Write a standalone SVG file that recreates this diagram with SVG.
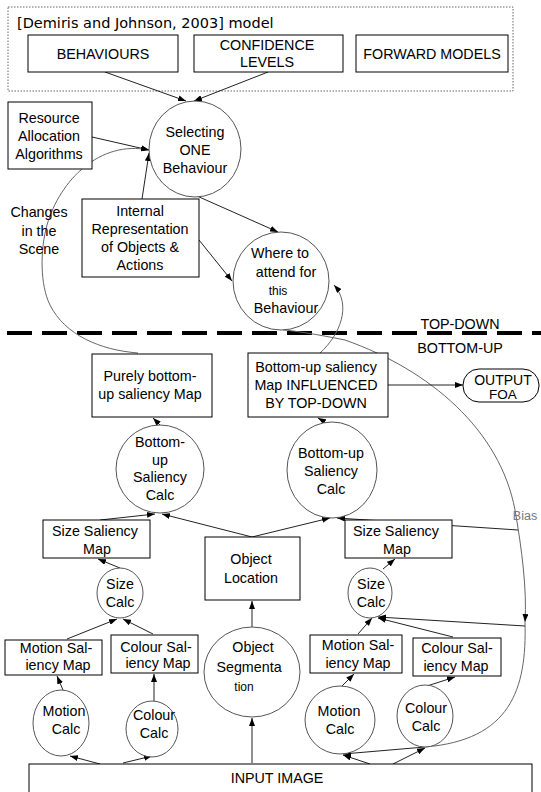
<svg xmlns="http://www.w3.org/2000/svg" width="541" height="792" viewBox="0 0 541 792">
<defs>
<style>
.box{fill:#fff;stroke:#000;stroke-width:1}
.circ{fill:#fff;stroke:#555;stroke-width:1}
.t{font-family:"Liberation Sans",Arial,sans-serif;font-size:14.3px;fill:#000;text-anchor:middle}
.sm{font-size:12px}
.ln{fill:none;stroke:#222;stroke-width:1}
.cv{fill:none;stroke:#666;stroke-width:1}
</style>
<marker id="ah" markerWidth="8" markerHeight="6" refX="8" refY="3" orient="auto" markerUnits="userSpaceOnUse">
<path d="M0,0 L8,3 L0,6 z" fill="#000"/>
</marker>
</defs>
<rect width="541" height="792" fill="#fff"/>

<g id="model-frame">
<rect x="8" y="7" width="505" height="84" fill="none" stroke="#666" stroke-width="1" stroke-dasharray="1.5 1.5"/>
<text x="17" y="28" style="font-family:'DejaVu Sans',sans-serif;font-size:14.5px;fill:#000">[Demiris and Johnson, 2003] model</text>
</g>

<g id="divider">
<line x1="7" y1="333" x2="541" y2="333" stroke="#000" stroke-width="4" stroke-dasharray="25 10"/>
<text class="t" x="460" y="329">TOP-DOWN</text>
<text class="t" x="460" y="353">BOTTOM-UP</text>
</g>

<g id="connectors">
<line class="ln" x1="105" y1="72" x2="186" y2="101" marker-end="url(#ah)"/>
<line class="ln" x1="268" y1="72" x2="194" y2="101" marker-end="url(#ah)"/>
<line class="ln" x1="92" y1="137" x2="149" y2="150" marker-end="url(#ah)"/>
<path class="cv" d="M 138 353 C 100 350, 65 335, 50 305 C 40 285, 40 250, 47 225 C 60 180, 100 140, 149 150" marker-end="url(#ah)"/>
<line class="ln" x1="142" y1="199" x2="149" y2="153" marker-end="url(#ah)"/>
<line class="ln" x1="197" y1="196" x2="278" y2="232" marker-end="url(#ah)"/>
<line class="ln" x1="199" y1="240" x2="232" y2="281" marker-end="url(#ah)"/>
<path class="cv" d="M 320 353 C 340 335, 352 305, 334 285" marker-end="url(#ah)"/>
<path class="cv" d="M 283 330 Q 300 331 345 340 C 430 370, 500 430, 515 510 C 522 550, 527 590, 525 622" marker-end="url(#ah)"/>
<path class="cv" d="M 525 622 C 527 690, 510 740, 425 747"/>
<line class="ln" x1="425" y1="747" x2="343" y2="754" marker-end="url(#ah)"/>
<line class="ln" x1="518" y1="530" x2="337" y2="518" marker-end="url(#ah)"/>
<line class="ln" x1="525" y1="626" x2="378" y2="617" marker-end="url(#ah)"/>
<line class="ln" x1="388" y1="385" x2="463" y2="385" marker-end="url(#ah)"/>
<line class="ln" x1="160" y1="425" x2="153" y2="418" marker-end="url(#ah)"/>
<line class="ln" x1="325" y1="422" x2="318" y2="418" marker-end="url(#ah)"/>
<line class="ln" x1="100" y1="520" x2="155" y2="514" marker-end="url(#ah)"/>
<line class="ln" x1="252" y1="537" x2="162" y2="514" marker-end="url(#ah)"/>
<line class="ln" x1="252" y1="537" x2="330" y2="518" marker-end="url(#ah)"/>
<line class="ln" x1="120" y1="568" x2="98" y2="559" marker-end="url(#ah)"/>
<line class="ln" x1="383" y1="569" x2="395" y2="559" marker-end="url(#ah)"/>
<line class="ln" x1="67" y1="639" x2="117" y2="619" marker-end="url(#ah)"/>
<line class="ln" x1="153" y1="634" x2="123" y2="619" marker-end="url(#ah)"/>
<line class="ln" x1="358" y1="634" x2="372" y2="618" marker-end="url(#ah)"/>
<line class="ln" x1="453" y1="637" x2="378" y2="618" marker-end="url(#ah)"/>
<line class="ln" x1="63" y1="690" x2="57" y2="676" marker-end="url(#ah)"/>
<line class="ln" x1="154" y1="701" x2="154" y2="674" marker-end="url(#ah)"/>
<line class="ln" x1="342" y1="686" x2="354" y2="674" marker-end="url(#ah)"/>
<line class="ln" x1="427" y1="686" x2="455" y2="677" marker-end="url(#ah)"/>
<line class="ln" x1="252" y1="627" x2="252" y2="601" marker-end="url(#ah)"/>
<line class="ln" x1="252" y1="763" x2="252" y2="718" marker-end="url(#ah)"/>
<line class="ln" x1="100" y1="764" x2="70" y2="756" marker-end="url(#ah)"/>
<line class="ln" x1="123" y1="763" x2="152" y2="756" marker-end="url(#ah)"/>
<line class="ln" x1="370" y1="764" x2="343" y2="755" marker-end="url(#ah)"/>
<line class="ln" x1="393" y1="764" x2="425" y2="748" marker-end="url(#ah)"/>
</g>

<g id="behaviours"><rect class="box" x="28" y="35" width="150" height="37"/><text class="t" x="103" y="59">BEHAVIOURS</text></g>
<g id="confidence"><rect class="box" x="194" y="35" width="149" height="37"/><text class="t" x="267" y="50">CONFIDENCE</text><text class="t" x="267" y="67">LEVELS</text></g>
<g id="forward"><rect class="box" x="356" y="35" width="152" height="37"/><text class="t" x="432" y="59">FORWARD MODELS</text></g>

<g id="resource"><rect class="box" x="8" y="102" width="84" height="67"/><text class="t" x="49" y="123">Resource</text><text class="t" x="49" y="141">Allocation</text><text class="t" x="49" y="159">Algorithms</text></g>

<g id="selecting"><ellipse class="circ" cx="195" cy="149" rx="46" ry="48"/><text class="t" x="195" y="137">Selecting</text><text class="t" x="195" y="155">ONE</text><text class="t" x="195" y="173">Behaviour</text></g>

<g id="changes-label"><text class="t" x="39" y="217">Changes</text><text class="t" x="39" y="236">in the</text><text class="t" x="39" y="254">Scene</text></g>

<g id="internal"><rect class="box" x="82" y="199" width="117" height="78"/><text class="t" x="140" y="216">Internal</text><text class="t" x="140" y="234">Representation</text><text class="t" x="140" y="252">of Objects &amp;</text><text class="t" x="140" y="270">Actions</text></g>

<g id="where"><ellipse class="circ" cx="281" cy="281" rx="48" ry="49"/><text class="t" x="280" y="258">Where to</text><text class="t" x="286" y="277">attend for</text><text class="t sm" x="278" y="295">this</text><text class="t" x="286" y="313">Behaviour</text></g>

<g id="purely"><rect class="box" x="92" y="354" width="120" height="63"/><text class="t" x="150" y="381">Purely bottom-</text><text class="t" x="150" y="399">up saliency Map</text></g>

<g id="influenced"><rect class="box" x="248" y="353" width="140" height="64"/><text class="t" x="316" y="372">Bottom-up saliency</text><text class="t" x="316" y="390">Map INFLUENCED</text><text class="t" x="316" y="408">BY TOP-DOWN</text></g>

<g id="output"><rect class="box" x="463" y="369" width="76" height="33" rx="16" ry="16"/><text class="t" x="503" y="385" style="font-size:14px">OUTPUT</text><text class="t" x="503" y="399" style="font-size:13.5px">FOA</text></g>

<g id="bias-label"><text class="t" x="525" y="520" style="font-size:12.5px;fill:#777">Bias</text></g>

<g id="bu-left"><ellipse class="circ" cx="160" cy="469" rx="44" ry="44"/><text class="t" x="160" y="447">Bottom-</text><text class="t" x="160" y="465">up</text><text class="t" x="160" y="482">Saliency</text><text class="t" x="160" y="500">Calc</text></g>

<g id="bu-right"><ellipse class="circ" cx="332" cy="470" rx="45" ry="48"/><text class="t" x="331" y="458">Bottom-up</text><text class="t" x="331" y="476">Saliency</text><text class="t" x="331" y="494">Calc</text></g>

<g id="size-sal-left"><rect class="box" x="43" y="520" width="107" height="38"/><text class="t" x="95" y="536">Size Saliency</text><text class="t" x="97" y="554">Map</text></g>

<g id="object-location"><rect class="box" x="205" y="537" width="95" height="63"/><text class="t" x="251" y="564">Object</text><text class="t" x="251" y="583">Location</text></g>

<g id="size-sal-right"><rect class="box" x="345" y="520" width="107" height="38"/><text class="t" x="396" y="536">Size Saliency</text><text class="t" x="397" y="554">Map</text></g>

<g id="size-calc-left"><ellipse class="circ" cx="120" cy="593" rx="23" ry="25"/><text class="t" x="120" y="589">Size</text><text class="t" x="120" y="607">Calc</text></g>

<g id="size-calc-right"><ellipse class="circ" cx="370" cy="593" rx="22" ry="25"/><text class="t" x="371" y="589">Size</text><text class="t" x="371" y="607">Calc</text></g>

<g id="motion-sal-left"><rect class="box" x="5" y="640" width="97" height="35"/><text class="t" x="56" y="653">Motion Sal-</text><text class="t" x="58" y="670">iency Map</text></g>

<g id="colour-sal-left"><rect class="box" x="111" y="635" width="87" height="38"/><text class="t" x="156" y="652">Colour Sal-</text><text class="t" x="158" y="668">iency Map</text></g>

<g id="object-seg"><ellipse class="circ" cx="252" cy="672" rx="48" ry="45"/><text class="t" x="253" y="652">Object</text><text class="t" x="249" y="672">Segmenta</text><text class="t sm" x="244" y="691">tion</text></g>

<g id="motion-sal-right"><rect class="box" x="310" y="635" width="92" height="38"/><text class="t" x="358" y="650">Motion Sal-</text><text class="t" x="358" y="668">iency Map</text></g>

<g id="colour-sal-right"><rect class="box" x="413" y="638" width="88" height="38"/><text class="t" x="457" y="653">Colour Sal-</text><text class="t" x="456" y="671">iency Map</text></g>

<g id="motion-calc-left"><ellipse class="circ" cx="61" cy="723" rx="28" ry="33"/><text class="t" x="64" y="716">Motion</text><text class="t" x="66" y="734">Calc</text></g>

<g id="colour-calc-left"><ellipse class="circ" cx="152" cy="729" rx="26" ry="28"/><text class="t" x="154" y="720">Colour</text><text class="t" x="154" y="738">Calc</text></g>

<g id="motion-calc-right"><ellipse class="circ" cx="340" cy="720" rx="35" ry="34"/><text class="t" x="339" y="716">Motion</text><text class="t" x="340" y="734">Calc</text></g>

<g id="colour-calc-right"><ellipse class="circ" cx="425" cy="716" rx="28" ry="31"/><text class="t" x="426" y="713">Colour</text><text class="t" x="426" y="731">Calc</text></g>

<g id="input-image"><rect class="box" x="29" y="764" width="503" height="40"/><text class="t" x="277" y="783">INPUT IMAGE</text></g>
</svg>
